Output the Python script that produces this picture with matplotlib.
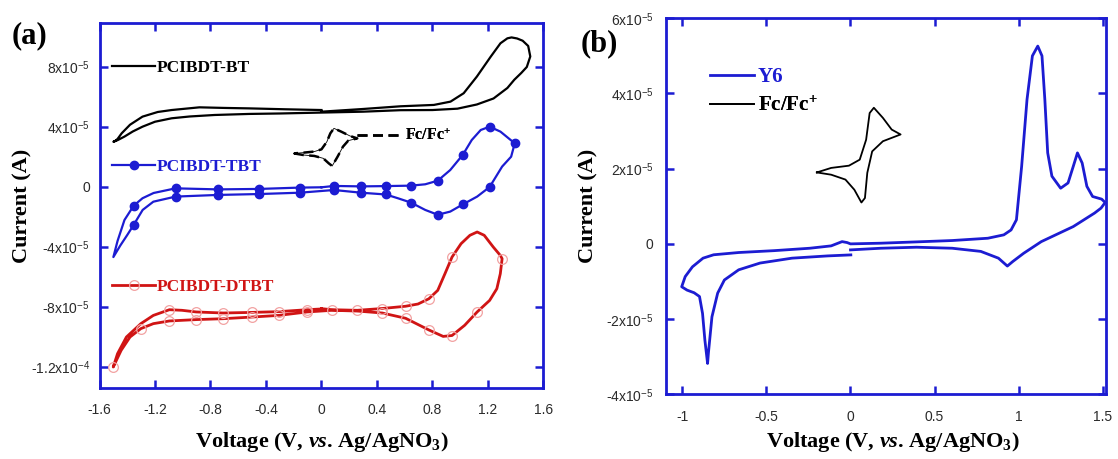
import numpy as np
import matplotlib
matplotlib.use("Agg")
import matplotlib.pyplot as plt
from matplotlib.font_manager import FontProperties

plt.rcParams['font.family'] = 'Liberation Sans'
plt.rcParams['mathtext.fontset'] = 'custom'
plt.rcParams['mathtext.rm'] = 'Liberation Serif'
plt.rcParams['mathtext.it'] = 'Liberation Serif:italic:bold'
plt.rcParams['mathtext.bf'] = 'Liberation Serif:bold'

BLUE = '#1c1cd2'
RED = '#d01414'
PINK = '#f2a2a2'

# ---- panel (a): polymers, current in units of 1e-5 A
bt_v = [0.0, 0.3, 0.57, 0.81, 0.93, 1.025, 1.12, 1.22, 1.29, 1.34, 1.37, 1.41, 1.45, 1.49, 1.505,
        1.48, 1.44, 1.39, 1.34, 1.24, 1.12, 0.98, 0.8, 0.57, 0.3, 0.0, -0.3, -0.52, -0.77, -0.95,
        -1.08, -1.2, -1.29, -1.36, -1.42, -1.47, -1.50, -1.49, -1.47, -1.44, -1.38, -1.29, -1.18,
        -1.08, -0.88, -0.7, -0.52, -0.26, 0.0]
bt_i = [5.02, 5.2, 5.38, 5.47, 5.69, 6.25, 7.36, 8.69, 9.58, 9.91, 9.97, 9.9, 9.75, 9.4, 8.7,
        8.0, 7.6, 7.15, 6.6, 5.9, 5.5, 5.22, 5.13, 5.12, 5.02, 4.96, 4.9, 4.87, 4.8, 4.7,
        4.58, 4.35, 4.02, 3.7, 3.36, 3.12, 3.02, 3.05, 3.2, 3.58, 4.15, 4.69, 5.0,
        5.13, 5.31, 5.27, 5.24, 5.18, 5.13]

tbt_v = [0.0, 0.09, 0.284, 0.464, 0.645, 0.748, 0.838, 0.928, 1.019, 1.083, 1.148, 1.212, 1.29,
         1.393, 1.367, 1.302, 1.212, 1.122, 1.019, 0.928, 0.838, 0.748, 0.645, 0.554, 0.464,
         0.284, 0.09, -0.155, -0.451, -0.748, -1.052, -1.212, -1.289, -1.354, -1.40, -1.45,
         -1.50, -1.47, -1.42, -1.354, -1.29, -1.21, -1.052, -0.748, -0.451, -0.155, 0.0]
tbt_i = [-0.02, 0.07, 0.04, 0.06, 0.09, 0.18, 0.42, 1.13, 2.15, 3.13, 3.8, 4.02, 3.69,
         2.91, 2.02, 1.36, 0.0, -0.64, -1.16, -1.64, -1.85, -1.53, -1.04, -0.76, -0.5,
         -0.38, -0.2, -0.38, -0.47, -0.53, -0.64, -0.98, -1.53, -2.53, -3.2, -3.9,
         -4.67, -3.6, -2.2, -1.25, -0.75, -0.4, -0.09, -0.16, -0.13, -0.04, -0.02]
tbt_marks = [1, 2, 3, 4, 6, 8, 11, 13, 16, 18, 20, 22, 24, 25, 26, 27, 28, 29, 30, 33,
             39, 42, 43, 44, 45]

dtbt_v = [0.0, 0.077, 0.258, 0.438, 0.606, 0.696, 0.774, 0.838, 0.89, 0.941, 1.006, 1.07, 1.122,
          1.173, 1.238, 1.289, 1.302, 1.289, 1.264, 1.212, 1.122, 1.032, 0.941, 0.877, 0.774,
          0.606, 0.438, 0.258, 0.077, -0.103, -0.309, -0.503, -0.709, -0.903, -1.096, -1.212,
          -1.302, -1.38, -1.444, -1.501, -1.47, -1.406, -1.302, -1.212, -1.096, -1.006, -0.903,
          -0.709, -0.503, -0.309, -0.103, 0.0]
dtbt_i = [-8.11, -8.18, -8.22, -8.1, -7.95, -7.8, -7.45, -6.89, -5.78, -4.67, -3.78, -3.22, -3.0,
          -3.22, -4.0, -4.56, -4.78, -5.78, -6.78, -7.56, -8.33, -9.22, -9.9, -9.96, -9.53,
          -8.75, -8.4, -8.27, -8.22, -8.33, -8.56, -8.67, -8.78, -8.84, -8.93, -9.11,
          -9.44, -10.0, -10.89, -12.0, -11.11, -10.0, -9.11, -8.56, -8.18, -8.22, -8.33,
          -8.4, -8.36, -8.31, -8.18, -8.13]
dtbt_marks = [1, 2, 3, 4, 6, 9, 16, 20, 22, 24, 25, 26, 29, 30, 31, 32, 33, 34, 36, 39,
              44, 46, 47, 48, 49, 50]

fca_v = [-0.199, -0.129, -0.052, 0.013, 0.052, 0.077, 0.116, 0.155, 0.193, 0.258, 0.206, 0.142,
         0.09, 0.064, 0.039, 0.0, -0.052, -0.129, -0.199]
fca_i = [2.24, 2.13, 2.07, 1.91, 1.58, 1.4, 2.02, 2.69, 3.09, 3.24, 3.4, 3.69,
         3.91, 3.58, 3.02, 2.51, 2.36, 2.29, 2.24]

# ---- panel (b): Y6, current in units of 1e-5 A
y6_v = [0.002, -0.136, -0.348, -0.538, -0.665, -0.75, -0.79, -0.824, -0.845, -0.85, -0.866,
        -0.88, -0.898, -0.93, -0.972, -1.004, -0.983, -0.94, -0.877, -0.814, -0.665, -0.454,
        -0.242, -0.115, -0.05, -0.02, 0.0, 0.18, 0.393, 0.605, 0.817, 0.912, 0.955, 0.987,
        1.018, 1.05, 1.082, 1.114, 1.139, 1.156, 1.173, 1.198, 1.25, 1.294, 1.325, 1.35,
        1.378, 1.406, 1.44, 1.494, 1.515, 1.49, 1.452, 1.325, 1.135, 1.03, 0.965, 0.933,
        0.88, 0.775, 0.605, 0.393, 0.18, 0.0]
y6_i = [-0.293, -0.32, -0.38, -0.51, -0.69, -0.96, -1.31, -1.94, -2.9, -3.18, -2.56,
        -1.85, -1.4, -1.3, -1.23, -1.14, -0.87, -0.61, -0.38, -0.29, -0.23, -0.18,
        -0.116, -0.053, 0.06, 0.035, 0.0, 0.018, 0.053, 0.089, 0.15, 0.24, 0.37, 0.64,
        2.06, 3.84, 5.0, 5.26, 5.0, 3.84, 2.42, 1.8, 1.48, 1.62, 2.06, 2.42,
        2.15, 1.53, 1.26, 1.19, 1.1, 0.95, 0.82, 0.46, 0.06, -0.25, -0.47, -0.59,
        -0.38, -0.2, -0.116, -0.089, -0.116, -0.16]

fcb_v = [-0.20, -0.115, -0.03, 0.023, 0.065, 0.086, 0.10, 0.129, 0.193, 0.298, 0.245, 0.193,
         0.139, 0.114, 0.093, 0.055, -0.009, -0.115, -0.20]
fcb_i = [1.90, 1.84, 1.71, 1.44, 1.10, 1.22, 1.89, 2.46, 2.73, 2.91, 3.04, 3.35,
         3.62, 3.48, 2.77, 2.24, 2.08, 2.02, 1.90]

a_xticks = [-1.6, -1.2, -0.8, -0.4, 0, 0.4, 0.8, 1.2, 1.6]
a_xlabels = ['-1.6', '-1.2', '-0.8', '-0.4', '0', '0.4', '0.8', '1.2', '1.6']
a_yticks = [-12e-5, -8e-5, -4e-5, 0, 4e-5, 8e-5]
a_ylabels = [r'-1.2x10$^{\mathregular{-4}}$', r'-8x10$^{\mathregular{-5}}$',
             r'-4x10$^{\mathregular{-5}}$', '0', r'4x10$^{\mathregular{-5}}$',
             r'8x10$^{\mathregular{-5}}$']
b_xticks = [-1, -0.5, 0, 0.5, 1, 1.5]
b_xlabels = ['-1', '-0.5', '0', '0.5', '1', '1.5']
b_yticks = [-4e-5, -2e-5, 0, 2e-5, 4e-5, 6e-5]
b_ylabels = [r'-4x10$^{\mathregular{-5}}$', r'-2x10$^{\mathregular{-5}}$', '0',
             r'2x10$^{\mathregular{-5}}$', r'4x10$^{\mathregular{-5}}$', r'6x10$^{\mathregular{-5}}$']

xlab = r'Voltage (V, $\it{vs}$. Ag/AgNO$_{\mathregular{3}}$)'


def scale(vals):
    return np.array(vals) * 1e-5


def tag(ax, h, text, color, x, y, size, hl, pad=0.12):
    lg = ax.legend(handles=[h], labels=[text], loc='center left', bbox_to_anchor=(x, y),
                   frameon=False, borderpad=0, borderaxespad=0, handlelength=hl,
                   handletextpad=pad, labelcolor=color,
                   prop=FontProperties(family='Liberation Serif', weight='bold', size=size))
    ax.add_artist(lg)


def style(ax, xpad, ypad):
    for s in ax.spines.values():
        s.set_color(BLUE)
        s.set_linewidth(2.0)
    ax.tick_params(direction='in', length=6, width=1.8, color=BLUE, top=True, right=True,
                   labelsize=10, labelcolor='#2a2a2a')
    ax.tick_params(axis='x', pad=xpad)
    ax.tick_params(axis='y', pad=ypad)


fig = plt.figure(figsize=(11.18, 4.59), dpi=100)
serif = dict(family='Liberation Serif', weight='bold')

# (a)
ax = fig.add_axes([0.0890, 0.154, 0.3971, 0.7965])
h_bt, = ax.plot(bt_v, scale(bt_i), color='black', lw=1.6)
h_tbt, = ax.plot(tbt_v, scale(tbt_i), color=BLUE, lw=1.6, marker='o', ms=6,
                 markevery=tbt_marks)
h_dtbt, = ax.plot(dtbt_v, scale(dtbt_i), color=RED, lw=2.0, marker='o', ms=7, mfc='none',
                  mec=PINK, mew=0.9, markevery=dtbt_marks)
ax.plot(fca_v, scale(fca_i), color='black', lw=0.6)
h_fca, = ax.plot(fca_v, scale(fca_i), color='black', lw=1.8, ls=(0, (4, 2.2)))
ax.set_xlim(-1.6, 1.6)
ax.set_ylim(-1.342e-4, 1.095e-4)
ax.set_xticks(a_xticks)
ax.set_xticklabels(a_xlabels)
ax.set_yticks(a_yticks)
ax.set_yticklabels(a_ylabels)
style(ax, 10.5, 7)
ax.set_xlabel(xlab, fontsize=16, **serif)
ax.xaxis.label.set_va('baseline')
ax.xaxis.set_label_coords(0.5, -0.161)
ax.set_ylabel('Current (A)', fontsize=16, **serif)
ax.yaxis.set_label_coords(-0.152, 0.5)
tag(ax, h_bt, 'PCIBDT-BT', 'black', 0.029, 0.876, 12.5, 2.48, 0.1)
tag(ax, h_tbt, 'PCIBDT-TBT', BLUE, 0.029, 0.606, 12.5, 2.48, 0.1)
tag(ax, h_dtbt, 'PCIBDT-DTBT', RED, 0.029, 0.278, 12.5, 2.48, 0.1)
tag(ax, h_fca, r'Fc/Fc$^{\mathregular{+}}$', 'black', 0.58, 0.69, 11.5, 2.9, 0.1)

# (b)
bx = fig.add_axes([0.5953, 0.141, 0.394, 0.8192])
h_y6, = bx.plot(y6_v, scale(y6_i), color=BLUE, lw=2.0)
h_fcb, = bx.plot(fcb_v, scale(fcb_i), color='black', lw=1.3)
bx.set_xlim(-1.1, 1.52)
bx.set_ylim(-4e-5, 6e-5)
bx.set_xticks(b_xticks)
bx.set_xticklabels(b_xlabels)
bx.set_yticks(b_yticks)
bx.set_yticklabels(b_ylabels)
style(bx, 11.4, 8.6)
bx.set_xlabel(xlab, fontsize=16, **serif)
bx.xaxis.label.set_va('baseline')
bx.xaxis.set_label_coords(0.516, -0.140)
bx.set_ylabel('Current (A)', fontsize=16, **serif)
bx.yaxis.set_label_coords(-0.153, 0.5)
tag(bx, h_y6, 'Y6', BLUE, 0.10, 0.844, 15, 2.14, 0.16)
tag(bx, h_fcb, r'Fc/Fc$^{\mathregular{+}}$', 'black', 0.10, 0.767, 15, 2.14, 0.16)

fig.text(12 / 1118, 1 - 35.5 / 459, '(a)', fontsize=22, va='center', ha='left', **serif)
fig.text(581 / 1118, 1 - 44 / 459, '(b)', fontsize=22, va='center', ha='left', **serif)

fig.savefig('out.png', dpi=100)
